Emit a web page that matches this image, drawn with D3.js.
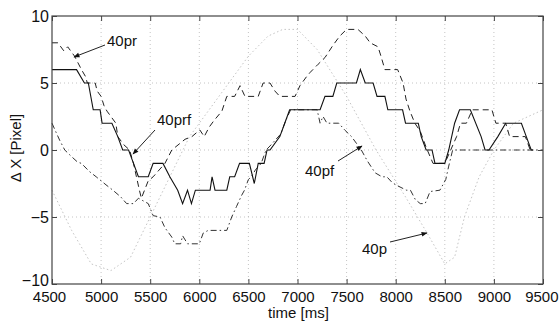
<!DOCTYPE html>
<html>
<head>
<meta charset="utf-8">
<script src="https://cdn.jsdelivr.net/npm/d3@7"></script>
<style>
  html, body { margin: 0; padding: 0; background: #fff; }
  svg { display: block; font-family: "Liberation Sans", Arial, sans-serif; }
</style>
</head>
<body>
<svg id="chart" width="559" height="321"></svg>
<script>
// tick values
const xTicks = [4500, 5000, 5500, 6000, 6500, 7000, 7500, 8000, 8500, 9000, 9500];
const yTicks = [-10, -5, 0, 5, 10];

// 40prf (solid)
const s40prf = [
  [4500, 6], [4750, 6], [4830, 5], [4870, 5], [4920, 3], [4990, 3], [5010, 2], [5110, 2],
  [5170, 1], [5220, 0], [5280, 0], [5330, -1], [5380, -2], [5480, -2], [5530, -1], [5630, -1],
  [5700, -2], [5780, -3], [5830, -4], [5880, -3], [5920, -4], [5960, -3], [6110, -3], [6130, -2],
  [6160, -3], [6280, -3], [6310, -2], [6360, -2], [6410, -1], [6510, -1], [6560, -2.5], [6600, -1],
  [6660, -1], [6690, 0], [6720, 0], [6820, 1], [6870, 2], [6920, 3], [7230, 3], [7280, 4],
  [7360, 4], [7400, 5], [7600, 5], [7640, 6], [7690, 5], [7770, 5], [7810, 4], [7890, 4],
  [7920, 3], [8070, 3], [8100, 2], [8230, 2], [8260, 1], [8310, 0], [8370, 0], [8400, -1],
  [8500, -1], [8540, 0], [8600, 2], [8650, 3], [8760, 3], [8870, 1], [8910, 0], [8950, 0],
  [9040, 1], [9120, 2], [9280, 2], [9330, 1], [9380, 0], [9400, 0]
];

// 40pr (dashed)
const s40pr = [
  [4500, 8], [4560, 8], [4620, 7.4], [4660, 7.7], [4730, 7], [4800, 6], [4840, 5.5], [4860, 5],
  [4940, 5], [4960, 4.4], [5000, 4], [5030, 3.3], [5060, 2.9], [5150, 2], [5170, 1], [5230, 0.4],
  [5290, 0], [5330, -1], [5360, -2], [5390, -3], [5410, -3.6], [5480, -2.3], [5530, -2], [5650, -1],
  [5720, 0], [5855, 0.8], [5925, 1], [6005, 1.5], [6050, 1], [6100, 1.7], [6150, 2.2], [6230, 2.9],
  [6280, 4], [6360, 4], [6415, 4.8], [6465, 4], [6600, 4], [6650, 5], [6720, 5], [6770, 4.4],
  [6820, 4], [6975, 4], [7025, 4.8], [7095, 5.5], [7130, 5.8], [7210, 6.4], [7280, 6.9], [7360, 7.8],
  [7430, 8.5], [7500, 9], [7615, 9], [7690, 8.5], [7740, 8], [7820, 7.7], [7850, 7], [7890, 6],
  [8020, 6], [8075, 5], [8105, 3.8], [8145, 2.9], [8195, 2], [8250, 1.4], [8280, 0.8], [8310, 0.2],
  [8380, -1], [8500, -1], [8560, 0], [8620, 1], [8660, 2], [8720, 2], [8780, 3], [8980, 3],
  [9020, 2], [9120, 2], [9160, 1], [9320, 1], [9370, 0], [9400, 0]
];

// 40pf (dash-dot)
const s40pf = [
  [4500, 2], [4530, 1.5], [4580, 0.7], [4630, 0], [4700, -0.5], [4760, -0.9], [4800, -1], [4880, -1.6],
  [4950, -2], [5050, -2.6], [5120, -3], [5200, -3.5], [5260, -4], [5330, -4], [5380, -3.6], [5480, -4],
  [5530, -4.9], [5600, -5], [5650, -5.8], [5720, -6.5], [5750, -7], [5810, -7], [5830, -6.4], [5880, -7],
  [6000, -7], [6040, -6.2], [6090, -6], [6280, -6], [6330, -5], [6380, -4.2], [6430, -3.4], [6460, -3],
  [6500, -2.2], [6530, -2], [6570, -1.5], [6630, -1], [6680, 0], [6720, 0.3], [6830, 1.2], [6880, 2.2],
  [6930, 3], [7200, 3], [7230, 2], [7260, 2.5], [7300, 2], [7420, 2], [7480, 1.5], [7550, 1],
  [7600, 0.5], [7650, 0], [7710, -0.8], [7790, -1.7], [7860, -2], [7910, -2], [7960, -2.4], [8000, -2.6],
  [8110, -3], [8150, -3], [8200, -3.7], [8250, -4], [8300, -4], [8350, -3.1], [8450, -3], [8510, -2.2],
  [8540, -1.2], [8580, 0], [9500, 0]
];

// 40p (dotted, faint)
const s40p = [
  [4500, -3], [4700, -6], [4900, -8.5], [5100, -9], [5300, -8], [5500, -5], [5700, -2], [5900, 1],
  [6100, 3], [6300, 5], [6500, 7], [6700, 8.5], [6850, 9], [7000, 9], [7200, 7.5], [7500, 4],
  [7800, 0], [8100, -3.5], [8320, -6.2], [8500, -8.5], [8600, -8], [8700, -5], [8850, -2], [9000, 0],
  [9200, 2], [9500, 3]
];

const labels = [
  { text: "40pr", x: 107, y: 46, from: [105, 45], to: [74, 57] },
  { text: "40prf", x: 157, y: 125, from: [155, 130], to: [133, 154] },
  { text: "40pf", x: 305, y: 176, from: [338, 161], to: [362, 146] },
  { text: "40p", x: 362, y: 254, from: [390, 242], to: [427, 233] }
];

const svg = d3.select("#chart");
const mLeft = 52, mRight = 543, mTop = 16, mBottom = 284;

const x = d3.scaleLinear().domain([4500, 9500]).range([mLeft, mRight]);
const y = d3.scaleLinear().domain([-10, 10]).range([mBottom, mTop]);

svg.append("defs").append("marker")
  .attr("id", "arr")
  .attr("viewBox", "0 0 10 10")
  .attr("refX", 9).attr("refY", 5)
  .attr("markerWidth", 7).attr("markerHeight", 6)
  .attr("markerUnits", "userSpaceOnUse")
  .attr("orient", "auto")
  .append("path").attr("d", "M0,1L10,5L0,9z").attr("fill", "#111");

// grid
const grid = svg.append("g").attr("stroke", "#b5b5b5").attr("stroke-width", 0.8).attr("stroke-dasharray", "1,3");
grid.selectAll(".gx").data(xTicks.slice(1, -1)).join("line")
  .attr("x1", d => x(d)).attr("x2", d => x(d)).attr("y1", mTop).attr("y2", mBottom);
grid.selectAll(".gy").data(yTicks.slice(1, -1)).join("line")
  .attr("y1", d => y(d)).attr("y2", d => y(d)).attr("x1", mLeft).attr("x2", mRight);

// series
const line = d3.line().x(d => x(d[0])).y(d => y(d[1]));
svg.append("path").datum(s40p).attr("d", line).attr("fill", "none")
  .attr("stroke", "#c4c4c4").attr("stroke-width", 1).attr("stroke-dasharray", "1.5,2.5");
svg.append("path").datum(s40pf).attr("d", line).attr("fill", "none")
  .attr("stroke", "#333").attr("stroke-width", 1).attr("stroke-dasharray", "6,3,1.5,3");
svg.append("path").datum(s40pr).attr("d", line).attr("fill", "none")
  .attr("stroke", "#222").attr("stroke-width", 1).attr("stroke-dasharray", "6,4");
svg.append("path").datum(s40prf).attr("d", line).attr("fill", "none")
  .attr("stroke", "#111").attr("stroke-width", 1.1);

// axes with inward ticks on all sides
const fmt = d3.format("d");
svg.append("g").attr("class", "xaxis").attr("transform", `translate(0,${mBottom})`)
  .call(d3.axisBottom(x).tickValues(xTicks).tickSize(-5).tickPadding(6).tickFormat(fmt))
  .call(g => g.select(".domain").remove());
svg.append("g").attr("transform", `translate(0,${mTop})`)
  .call(d3.axisTop(x).tickValues(xTicks).tickSize(-5).tickFormat(""))
  .call(g => g.select(".domain").remove());
svg.append("g").attr("class", "yaxis").attr("transform", `translate(${mLeft},0)`)
  .call(d3.axisLeft(y).tickValues(yTicks).tickSize(-5).tickPadding(3).tickFormat(fmt))
  .call(g => g.select(".domain").remove());
svg.append("g").attr("transform", `translate(${mRight},0)`)
  .call(d3.axisRight(y).tickValues(yTicks).tickSize(-5).tickFormat(""))
  .call(g => g.select(".domain").remove());

svg.selectAll(".tick line").attr("stroke", "#444");
svg.selectAll(".tick text").attr("font-size", 16).attr("fill", "#111")
  .attr("font-family", "'Liberation Sans', Arial, sans-serif");
svg.selectAll(".xaxis .tick text").attr("font-size", 15).attr("y", 7);
// keep the last x label inside the picture, and "-10" clear of "4500"
svg.selectAll(".xaxis .tick text").filter(d => d === 9500).attr("dx", -1).attr("text-anchor", "end").attr("x", 16);
svg.selectAll(".xaxis .tick text").filter(d => d === 4500).attr("dx", -3);
svg.selectAll(".yaxis .tick text").filter(d => d === -10).attr("y", -4);

svg.append("rect").attr("x", mLeft).attr("y", mTop)
  .attr("width", mRight - mLeft).attr("height", mBottom - mTop)
  .attr("fill", "none").attr("stroke", "#444").attr("stroke-width", 1.2);

// axis titles
svg.append("text").attr("x", (mLeft + mRight) / 2 + 1).attr("y", 318)
  .attr("text-anchor", "middle").attr("font-size", 15).attr("fill", "#111").text("time [ms]");
svg.append("text").attr("transform", "translate(21,148) rotate(-90)")
  .attr("text-anchor", "middle").attr("font-size", 15).attr("fill", "#111").text("Δ X [Pixel]");

// annotations
labels.forEach(l => {
  svg.append("line")
    .attr("x1", l.from[0]).attr("y1", l.from[1]).attr("x2", l.to[0]).attr("y2", l.to[1])
    .attr("stroke", "#222").attr("stroke-width", 1).attr("marker-end", "url(#arr)");
  svg.append("text").attr("x", l.x).attr("y", l.y)
    .attr("font-size", 15).attr("fill", "#111").text(l.text);
});
</script>
</body>
</html>
